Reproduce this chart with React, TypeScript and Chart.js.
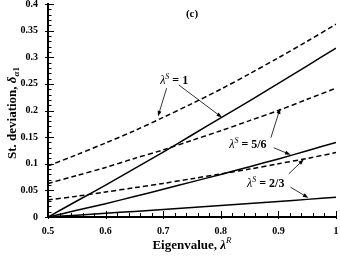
import React, { useEffect, useRef } from "react";
import { Chart, registerables } from "chart.js";

Chart.register(...registerables);

// ---- data ----
const LAMBDA_R = [0.5, 0.55, 0.6, 0.65, 0.7, 0.75, 0.8, 0.85, 0.9, 0.95, 1.0];
const DASH_S1 = [0.096, 0.117, 0.139, 0.162, 0.187, 0.213, 0.240, 0.269, 0.299, 0.330, 0.362];
const DASH_S56 = [0.063, 0.078, 0.093, 0.110, 0.126, 0.144, 0.162, 0.181, 0.200, 0.221, 0.242];
const DASH_S23 = [0.032, 0.039, 0.047, 0.055, 0.063, 0.072, 0.081, 0.090, 0.100, 0.110, 0.121];
const SOLID_S1 = [0, 0.030, 0.060, 0.091, 0.122, 0.154, 0.186, 0.218, 0.251, 0.284, 0.317];
const SOLID_S56 = [0, 0.0125, 0.025, 0.0385, 0.052, 0.066, 0.080, 0.0945, 0.109, 0.1245, 0.140];
const SOLID_S23 = [0, 0.0034, 0.0069, 0.0105, 0.0141, 0.0178, 0.0216, 0.0254, 0.0292, 0.0331, 0.037];

const X_TICK_LABELS = ["0.5", "0.6", "0.7", "0.8", "0.9", "1"];
const Y_TICK_LABELS = ["0", "0.05", "0.1", "0.15", "0.2", "0.25", "0.3", "0.35", "0.4"];

// annotation labels (value of lambda^S) with anchor in data coords
const ANNOT_TEXT = ["1", "5/6", "2/3"];
const ANNOT_AT = [
  [0.719, 0.257],
  [0.847, 0.137],
  [0.878, 0.064],
];
// arrows: [fromX, fromY, toX, toY] in data coords
const ARROWS = [
  [0.706, 0.242, 0.691, 0.189],
  [0.727, 0.248, 0.802, 0.187],
  [0.887, 0.149, 0.903, 0.204],
  [0.892, 0.130, 0.921, 0.117],
  [0.918, 0.081, 0.944, 0.108],
  [0.921, 0.056, 0.952, 0.036],
];

const SERIF = "'Liberation Serif', 'DejaVu Serif', serif";

function isMult(v: number, step: number) {
  const r = v / step;
  return Math.abs(r - Math.round(r)) < 1e-6;
}

type Part = { text: string; font: string; dy?: number };

function drawRich(ctx: CanvasRenderingContext2D, parts: Part[], cx: number, baseY: number) {
  let w = 0;
  for (const p of parts) {
    ctx.font = p.font;
    w += ctx.measureText(p.text).width;
  }
  let x = cx - w / 2;
  ctx.textAlign = "left";
  ctx.textBaseline = "alphabetic";
  for (const p of parts) {
    ctx.font = p.font;
    ctx.fillText(p.text, x, baseY + (p.dy || 0));
    x += ctx.measureText(p.text).width;
  }
}

const overlayPlugin = {
  id: "overlay",
  afterDraw(chart: any) {
    const { ctx, chartArea } = chart;
    const xs = chart.scales.x;
    const ys = chart.scales.y;
    ctx.save();
    ctx.strokeStyle = "#000";
    ctx.fillStyle = "#000";
    ctx.lineWidth = 1;

    // inward ticks on y axis
    for (const t of ys.ticks) {
      const py = Math.round(ys.getPixelForValue(t.value)) + 0.5;
      const major = isMult(t.value, 0.05);
      ctx.beginPath();
      ctx.moveTo(chartArea.left - (major ? 3 : 0), py);
      ctx.lineTo(chartArea.left + (major ? 6 : 3.5), py);
      ctx.stroke();
    }
    // inward ticks on x axis
    for (const t of xs.ticks) {
      const px = Math.round(xs.getPixelForValue(t.value)) + 0.5;
      const major = isMult(t.value, 0.1);
      ctx.beginPath();
      ctx.moveTo(px, chartArea.bottom + (major ? 2 : 0));
      ctx.lineTo(px, chartArea.bottom - (major ? 6 : 4));
      ctx.stroke();
    }

    // arrows
    ctx.lineWidth = 0.8;
    for (const a of ARROWS) {
      const x1 = xs.getPixelForValue(a[0]);
      const y1 = ys.getPixelForValue(a[1]);
      const x2 = xs.getPixelForValue(a[2]);
      const y2 = ys.getPixelForValue(a[3]);
      const ang = Math.atan2(y2 - y1, x2 - x1);
      const L = 5.5;
      const W = 2;
      ctx.beginPath();
      ctx.moveTo(x1, y1);
      ctx.lineTo(x2 - Math.cos(ang) * L * 0.8, y2 - Math.sin(ang) * L * 0.8);
      ctx.stroke();
      ctx.beginPath();
      ctx.moveTo(x2, y2);
      ctx.lineTo(x2 - Math.cos(ang) * L + Math.sin(ang) * W, y2 - Math.sin(ang) * L - Math.cos(ang) * W);
      ctx.lineTo(x2 - Math.cos(ang) * L - Math.sin(ang) * W, y2 - Math.sin(ang) * L + Math.cos(ang) * W);
      ctx.closePath();
      ctx.fill();
    }

    // annotation labels
    ANNOT_TEXT.forEach((txt, i) => {
      const cx = xs.getPixelForValue(ANNOT_AT[i][0]);
      const cy = ys.getPixelForValue(ANNOT_AT[i][1]);
      drawRich(
        ctx,
        [
          { text: "\u03bb", font: `italic 12px ${SERIF}` },
          { text: "S", font: `italic 8px ${SERIF}`, dy: -5 },
          { text: " = " + txt, font: `bold 12px ${SERIF}` },
        ],
        cx,
        cy + 4
      );
    });

    // panel label
    ctx.font = `bold 11px ${SERIF}`;
    ctx.textAlign = "center";
    ctx.textBaseline = "middle";
    ctx.fillText("(c)", (chartArea.left + chartArea.right) / 2, 14);

    // x axis title
    drawRich(
      ctx,
      [
        { text: "Eigenvalue, ", font: `bold 13px ${SERIF}` },
        { text: "\u03bb", font: `bold italic 13px ${SERIF}` },
        { text: "R", font: `italic 9px ${SERIF}`, dy: -6 },
      ],
      (chartArea.left + chartArea.right) / 2,
      249
    );

    // y axis title (rotated)
    ctx.save();
    ctx.translate(16, 113);
    ctx.rotate(-Math.PI / 2);
    drawRich(
      ctx,
      [
        { text: "St. deviation, ", font: `bold 13px ${SERIF}` },
        { text: "\u03b4", font: `bold italic 13px ${SERIF}` },
        { text: "\u03b1", font: `bold italic 9px ${SERIF}`, dy: 3 },
        { text: "1", font: `bold 9px ${SERIF}`, dy: 3 },
      ],
      0,
      0
    );
    ctx.restore();

    ctx.restore();
  },
};

function pts(vals: number[]) {
  return LAMBDA_R.map((x, i) => ({ x, y: vals[i] }));
}

export default function App() {
  const ref = useRef<HTMLCanvasElement | null>(null);

  useEffect(() => {
    if (!ref.current) return;
    const solid = (vals: number[]) => ({
      data: pts(vals),
      borderColor: "#000",
      borderWidth: 1.5,
      pointRadius: 0,
      fill: false,
      tension: 0.3,
    });
    const dashed = (vals: number[]) => ({
      ...solid(vals),
      borderDash: [5, 3],
    });
    const chart = new Chart(ref.current, {
      type: "line",
      data: {
        datasets: [
          dashed(DASH_S1),
          dashed(DASH_S56),
          dashed(DASH_S23),
          solid(SOLID_S1),
          solid(SOLID_S56),
          solid(SOLID_S23),
        ] as any,
      },
      options: {
        animation: false,
        responsive: true,
        maintainAspectRatio: false,
        layout: { padding: { top: 4, right: 4, left: 0, bottom: 0 } },
        plugins: {
          legend: { display: false },
          tooltip: { enabled: false },
          title: { display: false },
        },
        scales: {
          x: {
            type: "linear",
            min: 0.5,
            max: 1,
            grid: { display: true, drawOnChartArea: false, drawTicks: false, color: "rgba(0,0,0,0)" },
            border: { display: true, color: "#000", width: 2 },
            ticks: {
              stepSize: 0.02,
              autoSkip: false,
              maxRotation: 0,
              padding: 8,
              color: "#000",
              font: { family: SERIF, size: 10, weight: "bold" },
              callback: (v: any) => {
                const n = Number(v);
                if (!isMult(n, 0.1)) return "";
                return X_TICK_LABELS[Math.round((n - 0.5) / 0.1)] ?? "";
              },
            },
            afterFit: (s: any) => {
              s.height = 39;
              s.paddingLeft = 0;
              s.paddingRight = 0;
            },
          },
          y: {
            type: "linear",
            min: 0,
            max: 0.4,
            grid: { display: true, drawOnChartArea: false, drawTicks: false, color: "rgba(0,0,0,0)" },
            border: { display: true, color: "#000", width: 2 },
            ticks: {
              stepSize: 0.01,
              autoSkip: false,
              padding: 10,
              color: "#000",
              font: { family: SERIF, size: 10, weight: "bold" },
              callback: (v: any) => {
                const n = Number(v);
                if (!isMult(n, 0.05)) return "";
                return Y_TICK_LABELS[Math.round(n / 0.05)] ?? "";
              },
            },
            afterFit: (s: any) => {
              s.width = 48;
              s.paddingTop = 0;
              s.paddingBottom = 0;
            },
          },
        },
      } as any,
      plugins: [overlayPlugin],
    });
    return () => chart.destroy();
  }, []);

  return (
    <div style={{ position: "fixed", left: 0, top: 0, width: 340, height: 256, background: "#fff" }}>
      <canvas ref={ref} />
    </div>
  );
}
